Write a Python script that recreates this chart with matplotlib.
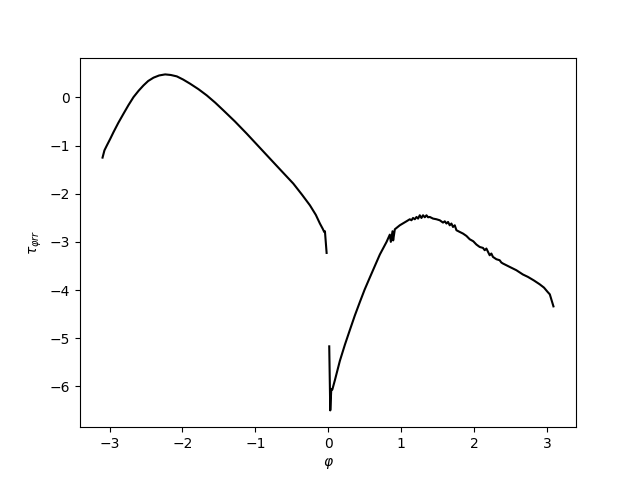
import numpy as np
import matplotlib
matplotlib.use("Agg")
import matplotlib.pyplot as plt

# left branch (phi < 0)
phi_left = [-3.096, -3.07, -3.036, -2.99, -2.945, -2.88, -2.808, -2.74, -2.671, -2.60,
            -2.534, -2.47, -2.397, -2.32, -2.237, -2.16, -2.077, -1.99, -1.895, -1.78,
            -1.666, -1.55, -1.438, -1.28, -1.118, -0.96, -0.799, -0.64, -0.479, -0.36,
            -0.251, -0.17, -0.114, -0.075, -0.055, -0.045, -0.022]
tau_left = [-1.251, -1.10, -0.996, -0.86, -0.72, -0.53, -0.338, -0.16, 0.006, 0.14,
            0.249, 0.34, 0.409, 0.455, 0.477, 0.465, 0.436, 0.37, 0.284, 0.17,
            0.041, -0.11, -0.270, -0.50, -0.753, -1.01, -1.272, -1.53, -1.790, -2.02,
            -2.241, -2.44, -2.620, -2.73, -2.795, -2.78, -3.230]

# right branch (phi > 0)
phi_right = [0.014, 0.028, 0.042, 0.056, 0.092, 0.16, 0.23, 0.297, 0.365, 0.434,
             0.50, 0.571, 0.64, 0.708, 0.800, 0.845, 0.859, 0.882, 0.891, 0.914,
             0.937, 0.982, 1.074, 1.119, 1.142, 1.164, 1.188, 1.211, 1.233, 1.256,
             1.279, 1.301, 1.325, 1.348, 1.370, 1.393, 1.438, 1.485, 1.530, 1.575,
             1.599, 1.622, 1.644, 1.667, 1.690, 1.712, 1.736, 1.759, 1.804, 1.849,
             1.896, 1.941, 1.990, 2.033, 2.078, 2.123, 2.147, 2.170, 2.215, 2.238,
             2.260, 2.307, 2.352, 2.375, 2.397, 2.489, 2.581, 2.671, 2.740, 2.82,
             2.90, 2.96, 3.01, 3.04, 3.09]
tau_right = [-5.17, -6.50, -6.06, -6.07, -5.87, -5.47, -5.13, -4.83, -4.53, -4.25,
             -3.99, -3.74, -3.50, -3.264, -3.002, -2.85, -3.00, -2.78, -2.97, -2.739,
             -2.711, -2.656, -2.573, -2.531, -2.552, -2.504, -2.531, -2.483, -2.517, -2.448,
             -2.504, -2.448, -2.490, -2.448, -2.490, -2.483, -2.517, -2.531, -2.552, -2.600,
             -2.573, -2.620, -2.587, -2.656, -2.620, -2.691, -2.656, -2.759, -2.794, -2.828,
             -2.877, -2.946, -2.988, -3.056, -3.106, -3.126, -3.174, -3.139, -3.278, -3.243,
             -3.313, -3.361, -3.382, -3.429, -3.450, -3.520, -3.589, -3.678, -3.728, -3.80,
             -3.88, -3.95, -4.04, -4.09, -4.34]

fig, ax = plt.subplots(figsize=(6.4, 4.8), dpi=100)
ax.plot(phi_left, tau_left, 'k-')
ax.plot(phi_right, tau_right, 'k-')
ax.set_xlabel(r'$\varphi$')
ax.set_ylabel(r'$\tau_{\varphi rr}$')

plt.savefig("out.png")
